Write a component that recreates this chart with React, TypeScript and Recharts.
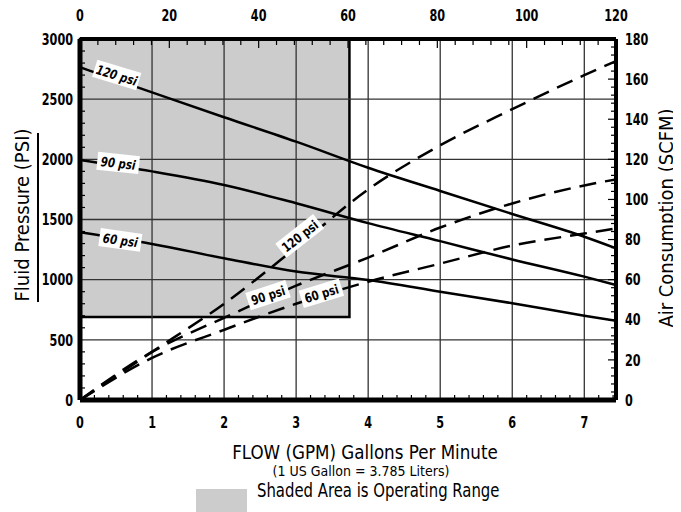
import { ComposedChart, Line, XAxis, YAxis, ReferenceArea, ReferenceLine, ReferenceDot } from 'recharts'

// flow in GPM, pressure in PSI, air in SCFM
const flow = [0, 1, 2, 3, 4, 5, 6, 7, 7.44]
const psi120 = [2765, 2557, 2350, 2147, 1930, 1737, 1546, 1357, 1261]
const psi90 = [1995, 1900, 1787, 1635, 1470, 1320, 1168, 1025, 956]
const psi60 = [1394, 1297, 1178, 1067, 997, 900, 804, 701, 659]
const air120 = [0, 24, 48, 76, 105, 127, 145, 162, 169]
const air90 = [0, 24, 41, 57, 71, 86, 98, 107, 110]
const air60 = [0, 21, 35, 48, 59, 68, 77, 83, 85.5]

const flowTicks = [0, 1, 2, 3, 4, 5, 6, 7]
const flowMinor = [0.2, 0.4, 0.6, 0.8, 1.2, 1.4, 1.6, 1.8, 2.2, 2.4, 2.6, 2.8, 3.2, 3.4, 3.6, 3.8, 4.2, 4.4, 4.6, 4.8, 5.2, 5.4, 5.6, 5.8, 6.2, 6.4, 6.6, 6.8, 7.2, 7.4]
const topTicks = [0, 20, 40, 60, 80, 100, 120]
const topMajor = [20, 40, 60, 80, 100]
const topMinor = [4, 8, 12, 16, 24, 28, 32, 36, 44, 48, 52, 56, 64, 68, 72, 76, 84, 88, 92, 96, 104, 108, 112, 116]
const psiTicks = [0, 500, 1000, 1500, 2000, 2500, 3000]
const psiGrid = [500, 1000, 1500, 2000, 2500]
const psiMinor = [100, 200, 300, 400, 600, 700, 800, 900, 1100, 1200, 1300, 1400, 1600, 1700, 1800, 1900, 2100, 2200, 2300, 2400, 2600, 2700, 2800, 2900]
const scfmTicks = [0, 20, 40, 60, 80, 100, 120, 140, 160, 180]
const scfmMajor = [20, 40, 60, 80, 100, 120, 140, 160]
const scfmMinor = [4, 8, 12, 16, 24, 28, 32, 36, 44, 48, 52, 56, 64, 68, 72, 76, 84, 88, 92, 96, 104, 108, 112, 116, 124, 128, 132, 136, 144, 148, 152, 156, 164, 168, 172, 176]

// operating range box
const rangeFlow = [0, 3.74]
const rangePsi = [690, 3000]

const curveTags = [
  { text: '120 psi', x: 0.51, y: 2701, axis: 'l', angle: 17, w: 46 },
  { text: '90 psi', x: 0.53, y: 1970, axis: 'l', angle: 6, w: 42 },
  { text: '60 psi', x: 0.56, y: 1330, axis: 'l', angle: 8, w: 42 },
  { text: '120 psi', x: 3.05, y: 81.8, axis: 'r', angle: -38, w: 48 },
  { text: '90 psi', x: 2.61, y: 52.3, axis: 'r', angle: -18, w: 42 },
  { text: '60 psi', x: 3.35, y: 53.2, axis: 'r', angle: -17, w: 42 },
]

const data = flow.map((f, i) => ({
  flow: f,
  p120: psi120[i],
  p90: psi90[i],
  p60: psi60[i],
  a120: air120[i],
  a90: air90[i],
  a60: air60[i],
}))

const F = "'DejaVu Sans Condensed', 'Liberation Sans', sans-serif"
const blank = () => ''
const minorLine = { stroke: '#000', strokeWidth: 1.2 }

const mkTick = (anchor: string, dy: string) => (props: any) => {
  const { x, y, payload } = props
  return (
    <text transform={`translate(${x},${y}) scale(0.78,1)`} textAnchor={anchor} dy={dy}
      fontSize={16} fontWeight={700} fontFamily={F} fill='#000'>
      {payload.value}
    </text>
  )
}

const Tag = (props: any) => {
  const { cx, cy, text, angle, w, italic } = props
  return (
    <g transform={`translate(${cx},${cy}) rotate(${angle})`}>
      <rect x={-w / 2} y={-9} width={w} height={18} fill='#fff' />
      <text transform='scale(0.88,1)' textAnchor='middle' y={5} fontSize={13} fontWeight={700}
        fontStyle={italic ? 'italic' : 'normal'} fontFamily={F} fill='#000'>
        {text}
      </text>
    </g>
  )
}

const hidden = { stroke: 'none', dot: false, activeDot: false, isAnimationActive: false } as any

const App = () => {
  return (
    <div style={{ position: 'relative', width: 665, height: 504, fontFamily: F }}>
      <ComposedChart width={665} height={430} data={data} margin={{ top: 6, right: 17, bottom: 8, left: 0 }}>
        <XAxis xAxisId='x' dataKey='flow' type='number' domain={[0, 7.44]} ticks={flowTicks} allowDataOverflow interval={0}
          tick={mkTick('middle', '0.71em')} tickLine={false} tickSize={6} tickMargin={11} axisLine={{ stroke: '#000', strokeWidth: 5 }} height={30} />
        <XAxis xAxisId='xm' dataKey='flow' type='number' domain={[0, 7.44]} ticks={flowMinor} allowDataOverflow interval={0} mirror
          tickFormatter={blank} tickSize={5} tickLine={minorLine} axisLine={false} height={1} />
        <XAxis xAxisId='t' dataKey='flow' orientation='top' type='number' domain={[0, 120]} ticks={topTicks} allowDataOverflow interval={0}
          tick={mkTick('middle', '0')} tickLine={false} tickSize={6} tickMargin={12} axisLine={{ stroke: '#000', strokeWidth: 4 }} height={25} />
        <XAxis xAxisId='tm' dataKey='flow' orientation='top' type='number' domain={[0, 120]} ticks={topMinor} allowDataOverflow interval={0} mirror
          tickFormatter={blank} tickSize={5} tickLine={minorLine} axisLine={false} height={1} />
        <XAxis xAxisId='tM' dataKey='flow' orientation='top' type='number' domain={[0, 120]} ticks={topMajor} allowDataOverflow interval={0} mirror
          tickFormatter={blank} tickSize={9} tickLine={minorLine} axisLine={false} height={1} />
        <YAxis yAxisId='l' type='number' domain={[0, 3000]} ticks={psiTicks} allowDataOverflow interval={0}
          tick={mkTick('end', '0.355em')} tickLine={false} tickSize={4} tickMargin={3} axisLine={{ stroke: '#000', strokeWidth: 5 }} width={72} />
        <YAxis yAxisId='lm' dataKey='p120' type='number' domain={[0, 3000]} ticks={psiMinor} allowDataOverflow interval={0} mirror
          tickFormatter={blank} tickSize={5} tickLine={minorLine} axisLine={false} width={1} />
        <YAxis yAxisId='r' orientation='right' type='number' domain={[0, 180]} ticks={scfmTicks} allowDataOverflow interval={0}
          tick={mkTick('start', '0.355em')} tickLine={false} tickSize={4} tickMargin={5} axisLine={{ stroke: '#000', strokeWidth: 4 }} width={40} />
        <YAxis yAxisId='rm' dataKey='a120' orientation='right' type='number' domain={[0, 180]} ticks={scfmMinor} allowDataOverflow interval={0} mirror
          tickFormatter={blank} tickSize={4} tickLine={minorLine} axisLine={false} width={1} />
        <YAxis yAxisId='rM' dataKey='a120' orientation='right' type='number' domain={[0, 180]} ticks={scfmMajor} allowDataOverflow interval={0} mirror
          tickFormatter={blank} tickSize={8} tickLine={minorLine} axisLine={false} width={1} />

        <ReferenceArea xAxisId='x' yAxisId='l' x1={rangeFlow[0]} x2={rangeFlow[1]} y1={rangePsi[0]} y2={rangePsi[1]}
          fill='#cccccc' fillOpacity={1} stroke='#000' strokeWidth={2.5} ifOverflow='visible' />

        {flowTicks.slice(1).map((v) => (
          <ReferenceLine key={'gx' + v} xAxisId='x' yAxisId='l' x={v} stroke='#333' strokeWidth={1.3} />
        ))}
        {psiGrid.map((v) => (
          <ReferenceLine key={'gy' + v} xAxisId='x' yAxisId='l' y={v} stroke='#333' strokeWidth={1.3} />
        ))}

        {/* invisible series so the tick-only axes get a scale */}
        <Line xAxisId='xm' yAxisId='lm' dataKey='p120' {...hidden} />
        <Line xAxisId='t' yAxisId='rm' dataKey='a120' {...hidden} />
        <Line xAxisId='tm' yAxisId='rM' dataKey='a120' {...hidden} />
        <Line xAxisId='tM' yAxisId='l' dataKey='p120' {...hidden} />

        <Line xAxisId='x' yAxisId='l' dataKey='p120' type='monotone' stroke='#000' strokeWidth={2.5} dot={false} isAnimationActive={false} />
        <Line xAxisId='x' yAxisId='l' dataKey='p90' type='monotone' stroke='#000' strokeWidth={2.5} dot={false} isAnimationActive={false} />
        <Line xAxisId='x' yAxisId='l' dataKey='p60' type='monotone' stroke='#000' strokeWidth={2.5} dot={false} isAnimationActive={false} />
        <Line xAxisId='x' yAxisId='r' dataKey='a120' type='monotone' stroke='#000' strokeWidth={2.5} strokeDasharray='17 9' dot={false} isAnimationActive={false} />
        <Line xAxisId='x' yAxisId='r' dataKey='a90' type='monotone' stroke='#000' strokeWidth={2.5} strokeDasharray='17 9' dot={false} isAnimationActive={false} />
        <Line xAxisId='x' yAxisId='r' dataKey='a60' type='monotone' stroke='#000' strokeWidth={2.5} strokeDasharray='17 9' dot={false} isAnimationActive={false} />

        {curveTags.map((t, i) => (
          <ReferenceDot key={'tag' + i} xAxisId='x' yAxisId={t.axis} x={t.x} y={t.y} ifOverflow='visible'
            shape={(p: any) => <Tag cx={p.cx} cy={p.cy} text={t.text} angle={t.angle} w={t.w} italic={t.axis === 'l'} />} />
        ))}
      </ComposedChart>

      <div style={{ position: 'absolute', left: -86, top: 195, width: 200, height: 24, lineHeight: '24px', fontSize: 20, textAlign: 'center', transform: 'rotate(-90deg)' }}>
        Fluid Pressure (PSI)
      </div>
      <div style={{ position: 'absolute', left: 29, top: 125, width: 2, height: 169, background: '#000' }} />
      <div style={{ position: 'absolute', left: 538, top: 198, width: 240, height: 24, lineHeight: '24px', fontSize: 20, textAlign: 'center', transform: 'rotate(-90deg)' }}>
        Air Consumption (SCFM)
      </div>
      <div style={{ position: 'absolute', left: 157, top: 434, width: 400, lineHeight: '20px', fontSize: 20, textAlign: 'center', transform: 'scaleX(0.93)' }}>
        FLOW (GPM) Gallons Per Minute
      </div>
      <div style={{ position: 'absolute', left: 153, top: 456, width: 400, lineHeight: '14px', fontSize: 14, textAlign: 'center' }}>
        (1 US Gallon = 3.785 Liters)
      </div>
      <div style={{ position: 'absolute', left: 188, top: 481, width: 51, height: 23, background: '#cccccc' }} />
      <div style={{ position: 'absolute', left: 249, top: 473, lineHeight: '19px', fontSize: 19, whiteSpace: 'nowrap', transform: 'scaleX(0.87)', transformOrigin: 'left center' }}>
        Shaded Area is Operating Range
      </div>
    </div>
  )
}

export default App
